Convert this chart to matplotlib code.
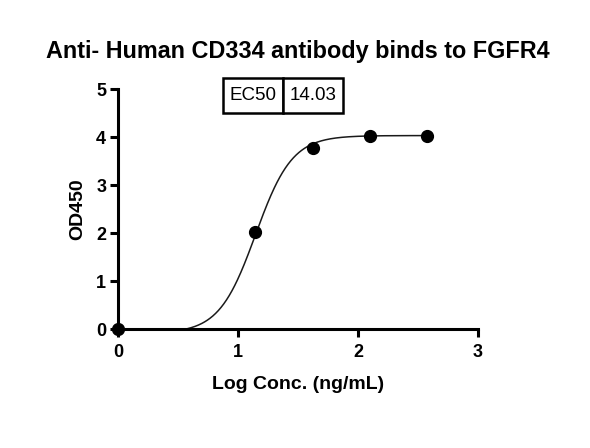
import numpy as np
import matplotlib
matplotlib.use("Agg")
import matplotlib.pyplot as plt

plt.rcParams['font.family'] = ['Liberation Sans', 'DejaVu Sans']

# data (log concentration, OD450)
log_conc = [0.0, 1.146, 1.623, 2.097, 2.574]
od450 = [0.0, 2.02, 3.78, 4.02, 4.03]

# fitted 4PL parameters
bottom = -0.09
top = 4.03
ec50 = 14.03
hill = 2.85
curve_start = 0.3

title = "Anti- Human CD334 antibody binds to FGFR4"
xlabel = "Log Conc. (ng/mL)"
ylabel = "OD450"
xticks = [0, 1, 2, 3]
yticks = [0, 1, 2, 3, 4, 5]

fig = plt.figure(figsize=(5.9, 4.48), dpi=100)
ax = fig.add_axes([0.2, 0.2656, 0.61, 0.5357])

xf = np.linspace(curve_start, log_conc[-1], 400)
yf = bottom + (top - bottom) / (1 + 10 ** ((np.log10(ec50) - xf) * hill))
ax.plot(xf, yf, color='#1a1a1a', lw=1.1, zorder=2)
ax.plot(log_conc, od450, 'o', color='black', ms=8.5, clip_on=False, zorder=4)

ax.set_xlim(0, 3)
ax.set_ylim(0, 5)
ax.set_xticks(xticks)
ax.set_yticks(yticks)
for s in ['top', 'right']:
    ax.spines[s].set_visible(False)
for s in ['left', 'bottom']:
    ax.spines[s].set_linewidth(2.2)
ax.tick_params(axis='both', width=2.2, length=5.5, labelsize=13)
ax.tick_params(axis='x', pad=5)
ax.tick_params(axis='y', pad=3)
for lab in ax.get_xticklabels() + ax.get_yticklabels():
    lab.set_fontweight('bold')

ax.set_xlabel(xlabel, fontsize=14, fontweight='bold', labelpad=11)
ax.set_ylabel(ylabel, fontsize=14, fontweight='bold', labelpad=7)
fig.suptitle(title, fontsize=16.8, fontweight='bold', x=0.505, y=0.91)

tbl = ax.table(cellText=[["EC50", "14.03"]], cellLoc='center',
               bbox=[0.2925, 0.901, 0.3315, 0.1436])
tbl.auto_set_font_size(False)
tbl.set_fontsize(13.5)
for cell in tbl.get_celld().values():
    cell.set_linewidth(1.8)
    cell.set_edgecolor('black')
    cell.set_clip_on(False)
    cell.get_text().set_clip_on(False)

fig.savefig("out.png", dpi=100)
